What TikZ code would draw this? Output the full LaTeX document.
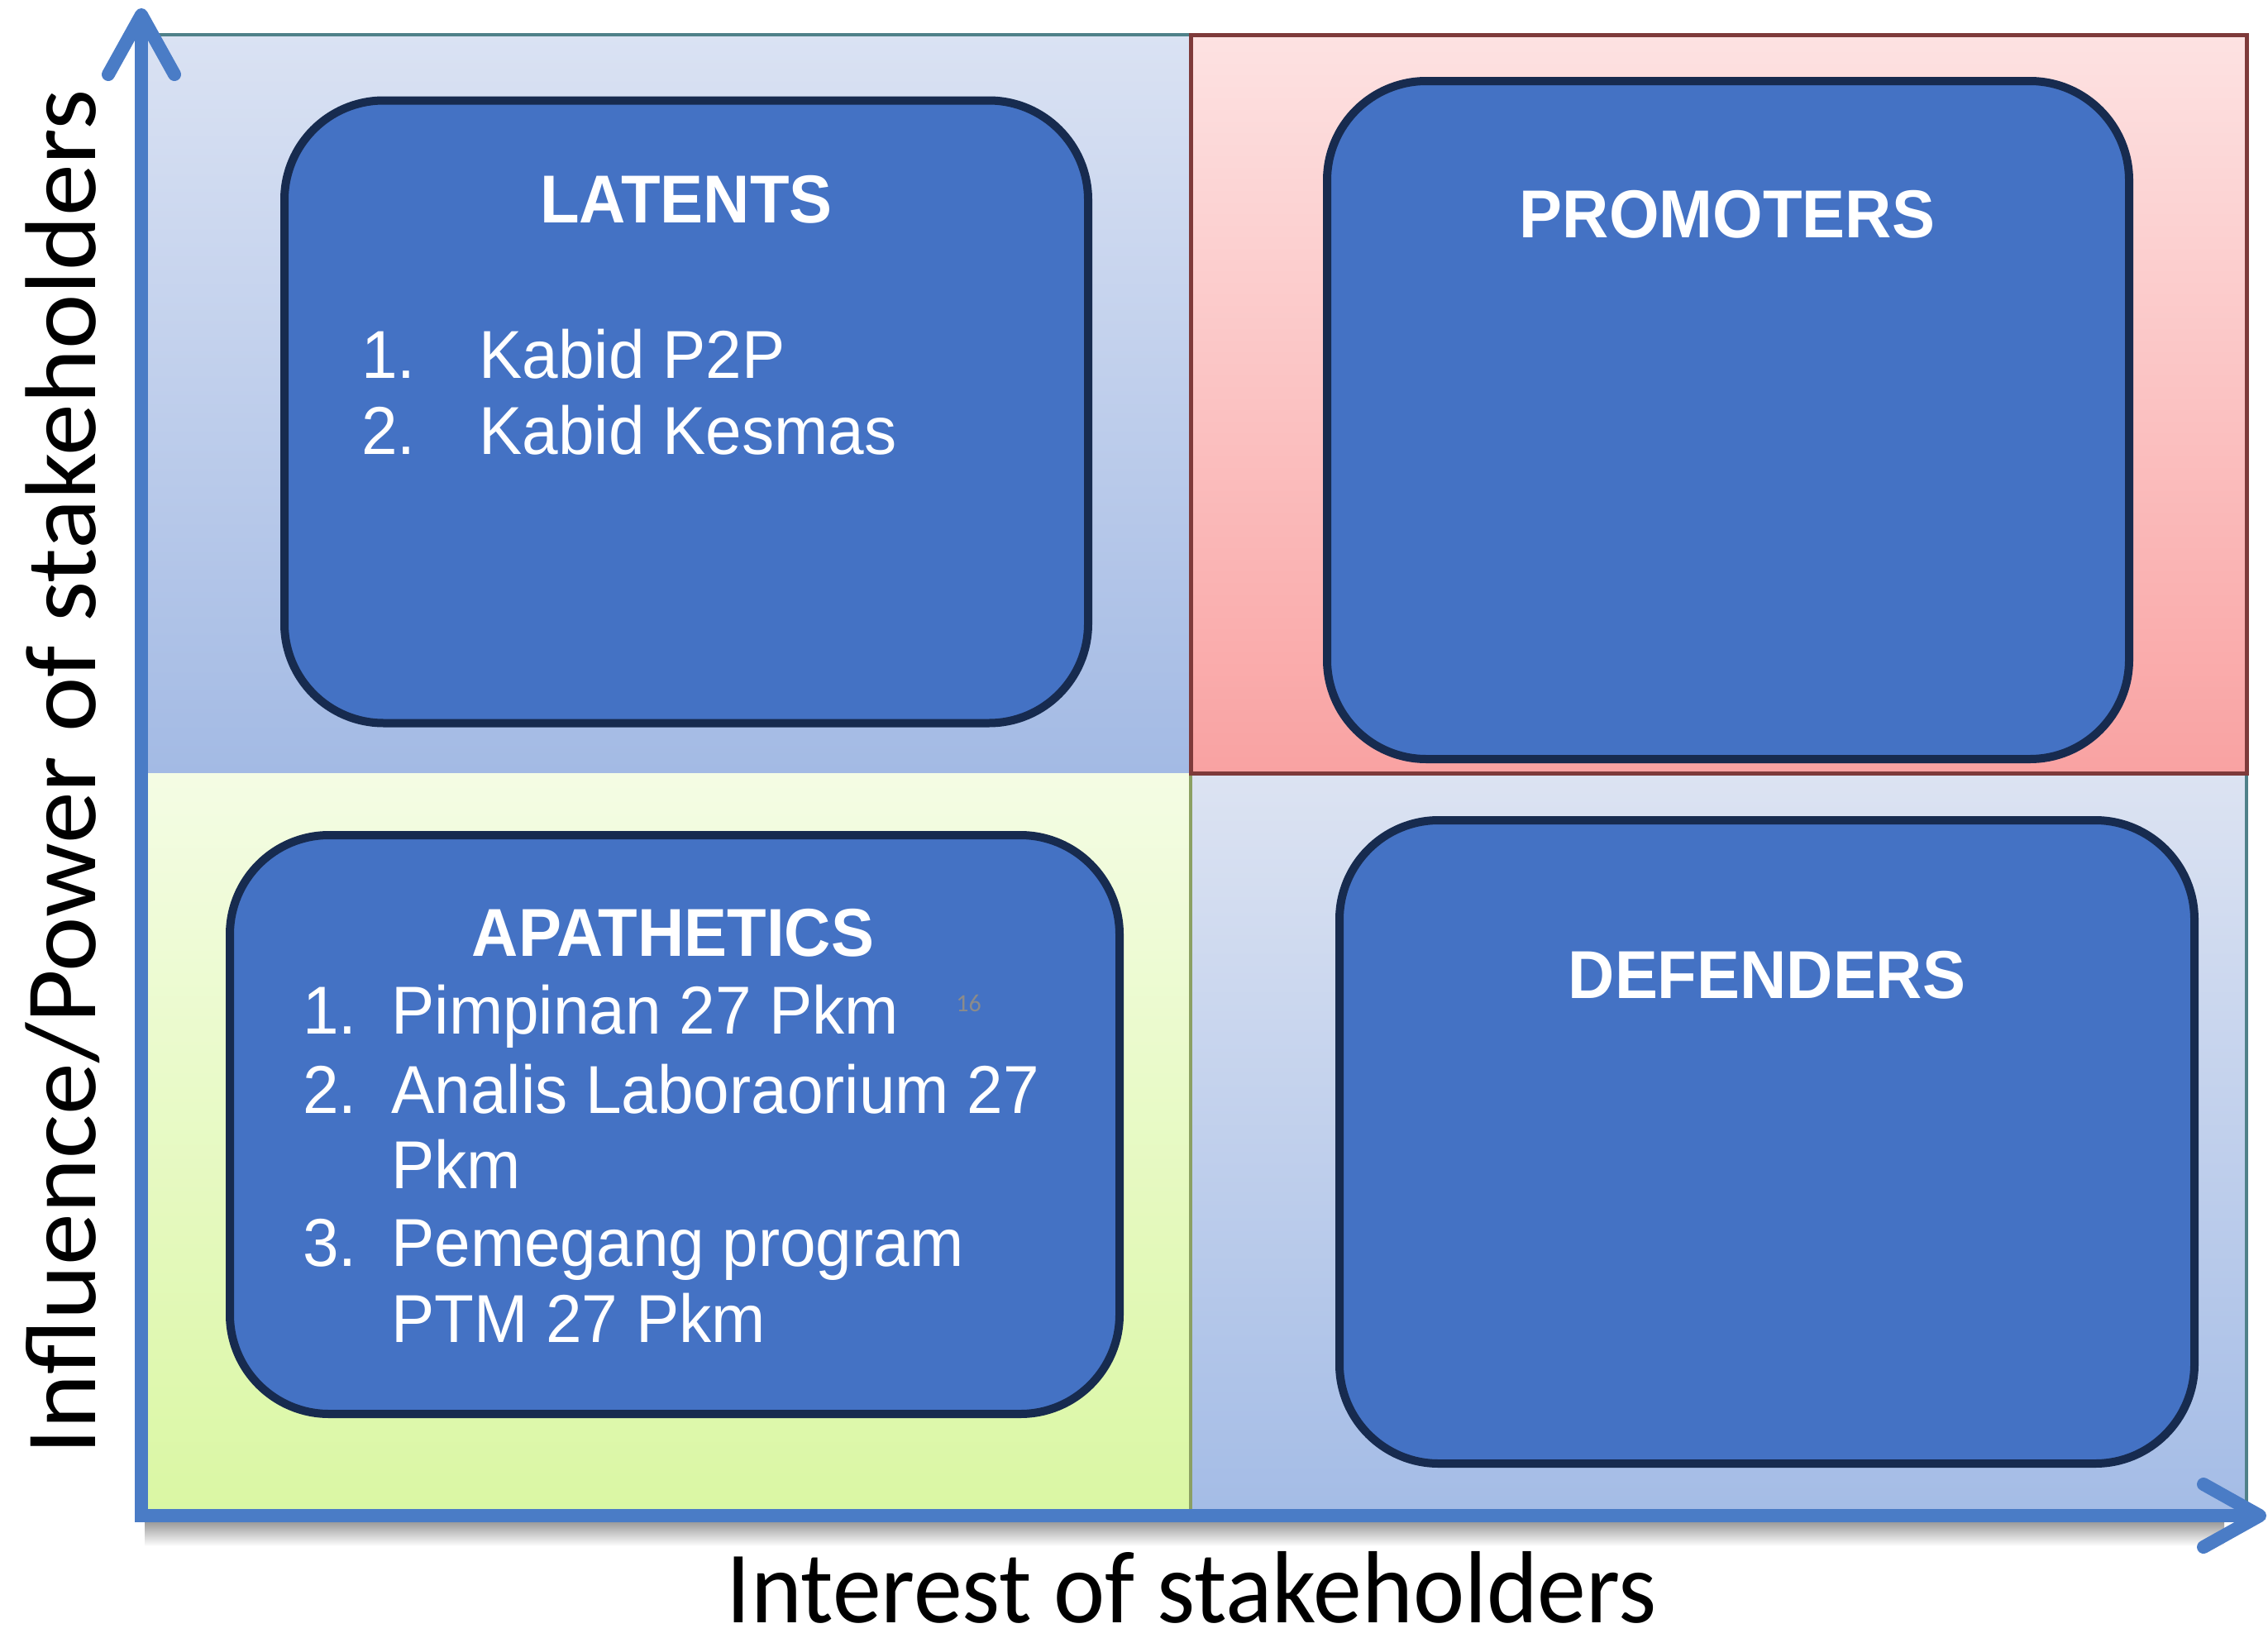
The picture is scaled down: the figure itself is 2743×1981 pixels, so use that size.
\documentclass[tikz,border=0pt]{standalone}
\usepackage{fontspec}
\usetikzlibrary{arrows.meta}
\newfontfamily\bxfont[FakeStretch=0.955]{Liberation Sans}
\newfontfamily\hdfont[FakeStretch=0.95]{Liberation Sans}
\newfontfamily\axfont{Carlito}
\newfontfamily\axxfont[FakeStretch=0.95]{Carlito}
\newfontfamily\axyfont[FakeStretch=1.03]{Carlito}
\definecolor{boxfill}{HTML}{4472C4}
\definecolor{boxline}{HTML}{172B4F}
\definecolor{axisblue}{HTML}{4A7CC6}
\definecolor{tlTop}{HTML}{DAE2F3}
\definecolor{tlBot}{HTML}{A3BAE4}
\definecolor{trTop}{HTML}{FDE2E2}
\definecolor{trBot}{HTML}{F9A2A2}
\definecolor{blTop}{HTML}{F4FCE4}
\definecolor{blBot}{HTML}{DAF7A3}
\definecolor{brTop}{HTML}{DCE3F2}
\definecolor{brBot}{HTML}{A4BCE6}
\definecolor{tealline}{HTML}{4F8189}
\definecolor{redline}{HTML}{7E3A3A}
\definecolor{greenline}{HTML}{8BA063}
\definecolor{pagegray}{HTML}{8B8B8B}
\begin{document}
\begin{tikzpicture}[x=0.5pt,y=-0.5pt,
  rbox/.style={draw=boxline, line width=5pt, fill=boxfill, rounded corners=60pt, inner sep=0pt},
  headtxt/.style={text=white, font=\hdfont\bfseries\fontsize{41}{41}\selectfont, anchor=base},
  itemtxt/.style={text=white, font=\bxfont\fontsize{41}{41}\selectfont, anchor=base west, inner sep=0pt},
  axisline/.style={draw=axisblue, line width=8pt, line join=miter,
    {Straight Barb[length=36pt,width=40pt,round]}-{Straight Barb[length=34pt,width=38pt,round]}}
]
\useasboundingbox (0,0) rectangle (2743,1981);
\fill[white] (0,0) rectangle (2743,1981);

% quadrants
\shade[top color=tlTop, bottom color=tlBot] (171,42) rectangle (1440,935);
\shade[top color=trTop, bottom color=trBot] (1440,42) rectangle (2717,935);
\shade[top color=blTop, bottom color=blBot] (171,935) rectangle (1440,1833);
\shade[top color=brTop, bottom color=brBot] (1440,935) rectangle (2717,1833);
\draw[tealline, line width=2pt] (171,42) -- (1440,42);
\draw[greenline, line width=2pt] (1440,935) -- (1440,1833);
\draw[tealline, line width=2pt] (2717,935) -- (2717,1833);
\draw[redline, line width=2.5pt] (1440,42) rectangle (2717,935);

% shadow under the x axis
\shade[top color=black!40, bottom color=white] (175,1840) rectangle (2690,1870);

% axes
\coordinate (ytip) at (171,10);
\coordinate (O) at (171,1833);
\coordinate (xtip) at (2741,1833);
\draw[axisline] (ytip) -- (O) -- (xtip);

% boxes
\node[rbox, minimum width=486pt, minimum height=376.5pt] (lat) at (830,498) {};
\node[rbox, minimum width=485pt, minimum height=410pt] (pro) at (2090,508) {};
\node[rbox, minimum width=538pt, minimum height=350pt] (apa) at (816,1360) {};
\node[rbox, minimum width=517pt, minimum height=389pt] (def) at (2137,1381) {};

% headings
\node[headtxt] (latH) at (830,269) {LATENTS};
\node[headtxt] (proH) at (2089,287) {PROMOTERS};
\node[headtxt] (apaH) at (814,1156) {APATHETICS};
\node[headtxt] (defH) at (2137,1207) {DEFENDERS};

% latents list
\node[itemtxt] (l1n) at (437,457) {1.};
\node[itemtxt] (l1t) at (579,457) {Kabid P2P};
\node[itemtxt] (l2n) at (437,549) {2.};
\node[itemtxt] (l2t) at (579,549) {Kabid Kesmas};

% apathetics list
\node[itemtxt] (a1n) at (366,1250) {1.};
\node[itemtxt] (a1t) at (473,1250) {Pimpinan 27 Pkm};
\node[itemtxt] (a2n) at (366,1346) {2.};
\node[itemtxt] (a2t) at (473,1346) {Analis Laboraorium 27};
\node[itemtxt] (a2u) at (473,1437) {Pkm};
\node[itemtxt] (a3n) at (366,1531) {3.};
\node[itemtxt] (a3t) at (473,1531) {Pemegang program};
\node[itemtxt] (a3u) at (473,1623) {PTM 27 Pkm};

% page number
\node[font=\axfont\fontsize{15}{15}\selectfont, text=pagegray, anchor=base west, inner sep=0pt] (pg) at (1156,1223) {16};

% axis labels
\node[font=\axxfont\fontsize{62}{62}\selectfont, anchor=base, inner sep=0pt] (xl) at (1441,1962) {Interest of stakeholders};
\node[font=\axyfont\fontsize{61}{61}\selectfont, rotate=90, anchor=base, inner sep=0pt] (yl) at (115,934) {Influence/Power of stakeholders};
\end{tikzpicture}
\end{document}
